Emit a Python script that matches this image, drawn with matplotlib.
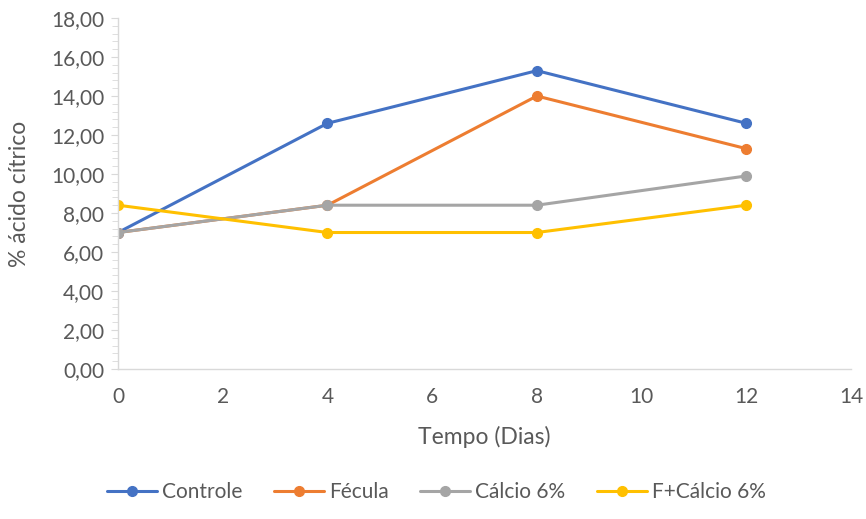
import matplotlib
matplotlib.use("Agg")
import matplotlib.pyplot as plt
from matplotlib.ticker import MultipleLocator, FuncFormatter

plt.rcParams['font.family'] = ['Lato', 'DejaVu Sans']

dias = [0, 4, 8, 12]
controle = [7.0, 12.6, 15.3, 12.6]
fecula = [7.0, 8.4, 14.0, 11.3]
calcio = [7.0, 8.4, 8.4, 9.9]
f_calcio = [8.4, 7.0, 7.0, 8.4]

series = [
    ("Controle", controle, "#4472C4"),
    ("Fécula", fecula, "#ED7D31"),
    ("Cálcio 6%", calcio, "#A5A5A5"),
    ("F+Cálcio 6%", f_calcio, "#FFC000"),
]

text_color = "#595959"
axis_color = "#D9D9D9"

fig = plt.figure(figsize=(8.66, 5.19), dpi=100)
ax = fig.add_axes([0.1363, 0.289, 0.8464, 0.6763])

for name, vals, color in series:
    ax.plot(dias, vals, color=color, lw=2.2, marker="o", markersize=7,
            label=name, solid_capstyle="round")

ax.set_xlim(0, 14)
ax.set_ylim(0, 18)
ax.xaxis.set_major_locator(MultipleLocator(2))
ax.yaxis.set_major_locator(MultipleLocator(2))
ax.yaxis.set_minor_locator(MultipleLocator(0.4))
ax.yaxis.set_major_formatter(FuncFormatter(lambda v, p: f"{v:.2f}".replace(".", ",")))

for side in ("top", "right"):
    ax.spines[side].set_visible(False)
for side in ("left", "bottom"):
    ax.spines[side].set_color(axis_color)
    ax.spines[side].set_linewidth(1.0)

ax.tick_params(axis="x", length=0, pad=13, labelsize=15, labelcolor=text_color)
ax.tick_params(axis="y", which="major", length=5, color=axis_color, pad=5,
               labelsize=15, labelcolor=text_color)
ax.tick_params(axis="y", which="minor", length=4, color=axis_color)

ax.set_xlabel("Tempo (Dias)", fontsize=16.5, color=text_color, va="center")
ax.set_ylabel("% ácido cítrico", fontsize=16.5, color=text_color, va="center")
ax.xaxis.set_label_coords(0.5, -0.194)
ax.yaxis.set_label_coords(-0.134, 0.5)

fig.legend(loc="center", bbox_to_anchor=(0.504, 0.052), ncol=4, frameon=False,
           fontsize=15, labelcolor=text_color, handlelength=2.4,
           handletextpad=0.25, columnspacing=1.5)

fig.savefig("out.png", dpi=100, facecolor="white")
